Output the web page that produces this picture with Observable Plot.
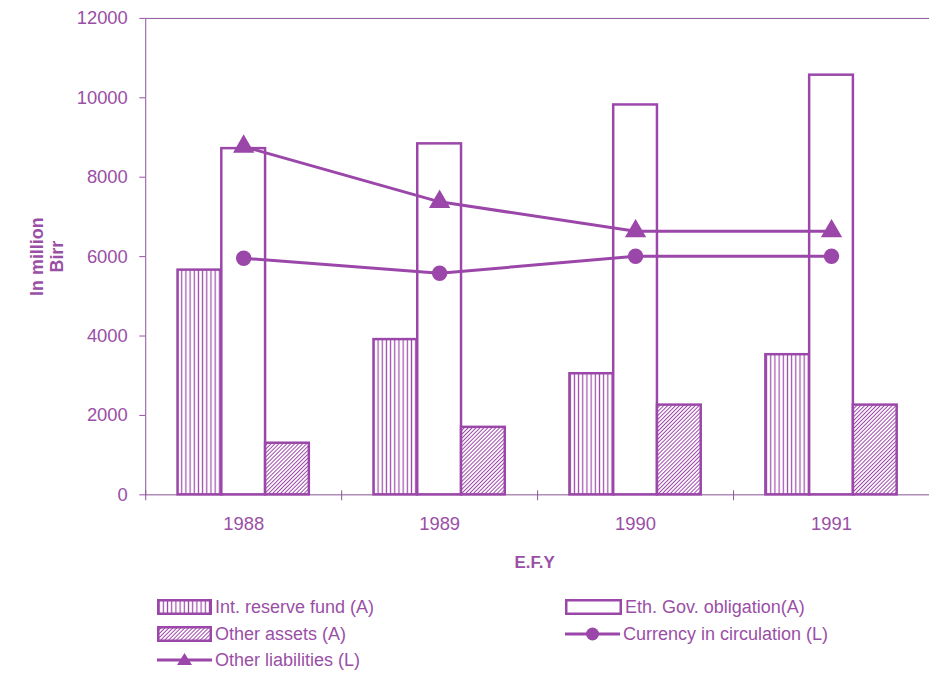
<!DOCTYPE html>
<html><head><meta charset="utf-8">
<script src="https://cdn.jsdelivr.net/npm/d3@7"></script>
<script src="https://cdn.jsdelivr.net/npm/@observablehq/plot@0.6"></script>
<style>
html,body{margin:0;padding:0;background:#fff;overflow:hidden;}
#wrap{position:relative;width:929px;height:674px;overflow:hidden;font-family:"Liberation Sans",Arial,sans-serif;}
#chart{position:absolute;left:0;top:0;}
.leg{position:absolute;display:flex;align-items:center;height:22px;font-size:18px;color:#9a4fa6;white-space:nowrap;}
.leg svg{margin-right:3px;}
</style></head><body><div id="wrap"><div id="chart"></div><div id="legend"></div></div>
<script>
// ---- data ----
const years = ["1988", "1989", "1990", "1991"];
const intReserve = [5660, 3910, 3050, 3530];
const govObligation = [8720, 8840, 9820, 10570];
const otherAssets = [1300, 1700, 2260, 2260];
const otherLiabilities = [8770, 7380, 6640, 6640];
const currency = [5960, 5580, 6010, 6010];
const yTicks = [0, 2000, 4000, 6000, 8000, 10000, 12000];
const yDomain = [0, 12000];
const xTitle = "E.F.Y";
const yTitle = "In million\nBirr";
const legendItems = [
  {label: "Int. reserve fund (A)", kind: "vhatch"},
  {label: "Eth. Gov. obligation(A)", kind: "empty"},
  {label: "Other assets (A)", kind: "dhatch"},
  {label: "Currency in circulation (L)", kind: "circle"},
  {label: "Other liabilities (L)", kind: "triangle"}
];

// ---- style ----
const C = "#9b47a9";
const TXT = "#9a4fa6";
const W = 934, H = 580, ML = 146, MR = 0, MT = 18, MB = 83;
const bw = (W - ML - MR) / years.length;
const half = 22;

const rows = years.map((year, i) => ({
  year,
  intReserve: intReserve[i],
  govObligation: govObligation[i],
  otherAssets: otherAssets[i],
  otherLiabilities: otherLiabilities[i],
  currency: currency[i]
}));

function bar(key, fill, offset) {
  return Plot.barY(rows, {
    x: "year", y: key, fill, stroke: C, strokeWidth: 2.5,
    insetLeft: bw / 2 + offset - half,
    insetRight: bw / 2 - offset - half
  });
}

const chart = Plot.plot({
  width: W, height: H,
  marginLeft: ML, marginRight: MR, marginTop: MT, marginBottom: MB,
  style: {fontFamily: '"Liberation Sans", Arial, sans-serif', color: TXT, background: "transparent", overflow: "visible"},
  x: {domain: years, padding: 0},
  y: {domain: yDomain},
  marks: [
    Plot.frame({stroke: "#8a5596", strokeWidth: 1}),
    Plot.axisY({ticks: yTicks, tickFormat: d => String(d), tickSize: 6, tickPadding: 12, fontSize: 18.5, label: null, color: TXT}),
    Plot.axisX({tickSize: 0, tickPadding: 22, fontSize: 18.5, label: null, color: TXT}),
    Plot.ruleX(years, {x: d => d, dx: -bw / 2, y1: 0, y2: 0, insetTop: -4, insetBottom: -6, stroke: "#8a5596"}),
    bar("intReserve", "url(#vhatch)", -2 * half),
    bar("govObligation", "white", 0),
    bar("otherAssets", "url(#dhatch)", 2 * half),
    Plot.line(rows, {x: "year", y: "otherLiabilities", stroke: C, strokeWidth: 3}),
    Plot.dot(rows, {x: "year", y: "otherLiabilities", symbol: "triangle", r: 7, fill: C, stroke: C}),
    Plot.line(rows, {x: "year", y: "currency", stroke: C, strokeWidth: 3}),
    Plot.dot(rows, {x: "year", y: "currency", r: 7, fill: C, stroke: C}),
    Plot.text([xTitle], {frameAnchor: "bottom", dx: -3, dy: 74, fontSize: 17, fontWeight: "bold", fill: TXT}),
    Plot.text([yTitle], {frameAnchor: "left", textAnchor: "middle", dx: -100, rotate: -90, fontSize: 18, fontWeight: "bold", fill: TXT, lineHeight: 1.15})
  ]
});

// patterns
const ns = "http://www.w3.org/2000/svg";
const defs = document.createElementNS(ns, "defs");
defs.innerHTML = `
  <pattern id="vhatch" patternUnits="userSpaceOnUse" width="4.2" height="10">
    <rect width="4.2" height="10" fill="white"/>
    <line x1="2.1" y1="0" x2="2.1" y2="10" stroke="${C}" stroke-width="1.2"/>
  </pattern>
  <pattern id="dhatch" patternUnits="userSpaceOnUse" width="2.8" height="10" patternTransform="rotate(45)">
    <rect width="2.8" height="10" fill="white"/>
    <line x1="1.4" y1="0" x2="1.4" y2="10" stroke="${C}" stroke-width="1"/>
  </pattern>`;
chart.insertBefore(defs, chart.firstChild);
document.getElementById("chart").appendChild(chart);

// legend
const legendPos = [
  {left: 157, top: 596}, {left: 565, top: 596},
  {left: 157, top: 623}, {left: 565, top: 623},
  {left: 157, top: 649}
];
const legend = document.getElementById("legend");
legendItems.forEach((it, i) => {
  const d = document.createElement("div");
  d.className = "leg";
  d.style.left = legendPos[i].left + "px";
  d.style.top = legendPos[i].top + "px";
  let sw = "";
  const w = it.kind === "empty" ? 57 : 55;
  if (it.kind === "vhatch" || it.kind === "dhatch" || it.kind === "empty") {
    const fill = it.kind === "empty" ? "white" : `url(#${it.kind})`;
    sw = `<svg width="${w}" height="16"><rect x="1.25" y="1.25" width="${w - 2.5}" height="13.5" fill="${fill}" stroke="${C}" stroke-width="2.5"/></svg>`;
  } else {
    const mark = it.kind === "circle"
      ? `<circle cx="${w / 2}" cy="8" r="6.5" fill="${C}"/>`
      : `<path d="M${w / 2},1 L${w / 2 + 7.5},13 L${w / 2 - 7.5},13 Z" fill="${C}"/>`;
    sw = `<svg width="${w}" height="16"><line x1="0" y1="8" x2="${w}" y2="8" stroke="${C}" stroke-width="3"/>${mark}</svg>`;
  }
  d.innerHTML = sw + `<span>${it.label}</span>`;
  legend.appendChild(d);
});
</script>
</body></html>
